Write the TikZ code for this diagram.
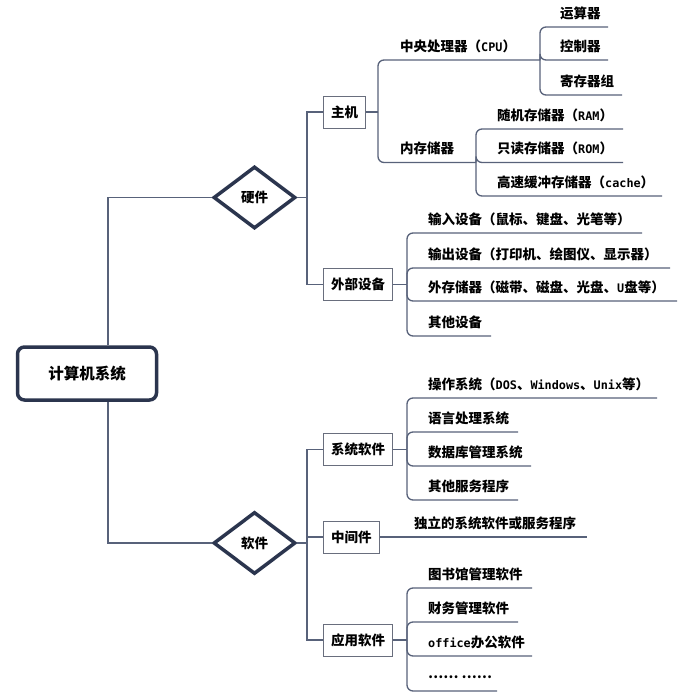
\documentclass[tikz,border=0pt]{standalone}
\usepackage{fontspec}
\setmainfont{Noto Sans CJK SC}
\newfontfamily\latmono{DejaVu Sans Mono}
\usetikzlibrary{shapes.geometric}

\definecolor{edgec}{RGB}{43,53,78}
\definecolor{linec}{RGB}{88,98,122}
\definecolor{boxc}{RGB}{105,110,125}

% half-width latin inside the labels
\newcommand{\lat}[1]{{\latmono\fontsize{11.8}{13}\selectfont #1}}

\tikzset{
    every node/.style={font=\fontsize{13.5}{16}\selectfont\bfseries},
    line/.style={draw=linec, line width=1.3pt},
    branch/.style={line, rounded corners=6pt},
    rootbox/.style={draw=edgec, line width=3.5pt, rounded corners=7pt, minimum width=139pt, minimum height=53pt, font=\fontsize{15.5}{18}\selectfont\bfseries},
    dia/.style={diamond, draw=edgec, line width=3.5pt, minimum width=82pt, minimum height=62pt, inner sep=0pt},
    box/.style={draw=boxc, line width=1pt, anchor=west, inner xsep=7.5pt, minimum height=32pt},
    leaf/.style={anchor=west, inner sep=0pt}
}

\begin{document}
\begin{tikzpicture}[x=1pt, y=1pt]
    \fill[white] (0,0) rectangle (693,-699);
    \useasboundingbox (0,0) rectangle (693,-699);

    \node[rootbox] (root) at (87,-373.5) {计算机系统};
    \node[dia] (hw) at (254.5,-197.5) {硬件};
    \node[dia] (sw) at (254.5,-543) {软件};

    \node[box] (host) at (323,-112) {主机};
    \node[box] (ext) at (323,-284.5) {外部设备};
    \node[box] (sys) at (323,-449.5) {系统软件};
    \node[box] (mid) at (323,-537) {中间件};
    \node[box] (app) at (323,-640) {应用软件};

    % junctions
    \coordinate (hwj) at (307,-197.5);
    \coordinate (swj) at (307,-543);
    \coordinate (hostj) at (378,-112);
    \coordinate (extj) at (407,-284.5);
    \coordinate (sysj) at (407,-449.5);
    \coordinate (appj) at (407,-640);

    % ends of the underlines
    \coordinate (cpu-e) at (540,-60);
    \coordinate (mem-e) at (476,-162.5);
    \coordinate (alu-e) at (608,-27);
    \coordinate (ctl-e) at (608,-60);
    \coordinate (reg-e) at (622,-95);
    \coordinate (ram-e) at (623,-129);
    \coordinate (rom-e) at (623,-162.5);
    \coordinate (cache-e) at (662,-196);
    \coordinate (in-e) at (642,-233);
    \coordinate (out-e) at (670,-268);
    \coordinate (st-e) at (677,-301);
    \coordinate (odev-e) at (491,-336);
    \coordinate (os-e) at (657,-398);
    \coordinate (lang-e) at (518,-432);
    \coordinate (db-e) at (531,-466);
    \coordinate (svc-e) at (518,-500);
    \coordinate (mid-e) at (587,-537);
    \coordinate (lib-e) at (532,-588);
    \coordinate (fin-e) at (518,-622);
    \coordinate (off-e) at (532,-656);
    \coordinate (etc-e) at (497,-691);

    % labels
    \node[leaf] (cpu) at (400,-46) {中央处理器（\lat{CPU}）};
    \node[leaf] (mem) at (400,-148.5) {内存储器};
    \node[leaf] (alu) at (560,-13) {运算器};
    \node[leaf] (ctl) at (560,-46) {控制器};
    \node[leaf] (reg) at (560,-81) {寄存器组};
    \node[leaf] (ram) at (497,-115) {随机存储器（\lat{RAM}）};
    \node[leaf] (rom) at (497,-148.5) {只读存储器（\lat{ROM}）};
    \node[leaf] (cache) at (497,-182) {高速缓冲存储器（\lat{cache}）};
    \node[leaf] (in) at (428,-219) {输入设备（鼠标、键盘、光笔等）};
    \node[leaf] (out) at (428,-254) {输出设备（打印机、绘图仪、显示器）};
    \node[leaf] (st) at (428,-287) {外存储器（磁带、磁盘、光盘、\lat{U}盘等）};
    \node[leaf] (odev) at (428,-322) {其他设备};
    \node[leaf] (os) at (428,-384) {操作系统（\lat{DOS}、\lat{Windows}、\lat{Unix}等）};
    \node[leaf] (lang) at (428,-418) {语言处理系统};
    \node[leaf] (db) at (428,-452) {数据库管理系统};
    \node[leaf] (svc) at (428,-486) {其他服务程序};
    \node[leaf] (indep) at (414,-523) {独立的系统软件或服务程序};
    \node[leaf] (lib) at (428,-574) {图书馆管理软件};
    \node[leaf] (fin) at (428,-608) {财务管理软件};
    \node[leaf] (off) at (428,-642) {\lat{office}办公软件};
    \node[leaf] (etc) at (428,-677) {…… ……};

    % main connectors
    \draw[line] ([xshift=21pt]root.north) |- (hw.west);
    \draw[line] ([xshift=21pt]root.south) |- (sw.west);
    \draw[line] (hw.east) -- (hwj);
    \draw[line] (host.west) -| (hwj) |- (ext.west);
    \draw[line] (sw.east) -- (swj);
    \draw[line] (sys.west) -| (swj) |- (app.west);
    \draw[line] (swj |- mid.west) -- (mid.west);

    % branches
    \draw[line] (host.east) -- (hostj);
    \draw[branch] (hostj) |- (cpu-e);
    \draw[branch] (hostj) |- (mem-e);
    \draw[branch] (cpu-e) |- (alu-e);
    \draw[branch] (cpu-e) |- (ctl-e);
    \draw[branch] (cpu-e) |- (reg-e);
    \draw[branch] (mem-e) |- (ram-e);
    \draw[branch] (mem-e) |- (rom-e);
    \draw[branch] (mem-e) |- (cache-e);

    \draw[line] (ext.east) -- (extj);
    \draw[branch] (extj) |- (in-e);
    \draw[branch] (extj) |- (out-e);
    \draw[branch] (extj) |- (st-e);
    \draw[branch] (extj) |- (odev-e);

    \draw[line] (sys.east) -- (sysj);
    \draw[branch] (sysj) |- (os-e);
    \draw[branch] (sysj) |- (lang-e);
    \draw[branch] (sysj) |- (db-e);
    \draw[branch] (sysj) |- (svc-e);

    \draw[line] (mid.east) -- (mid-e);

    \draw[line] (app.east) -- (appj);
    \draw[branch] (appj) |- (lib-e);
    \draw[branch] (appj) |- (fin-e);
    \draw[branch] (appj) |- (off-e);
    \draw[branch] (appj) |- (etc-e);
\end{tikzpicture}
\end{document}
